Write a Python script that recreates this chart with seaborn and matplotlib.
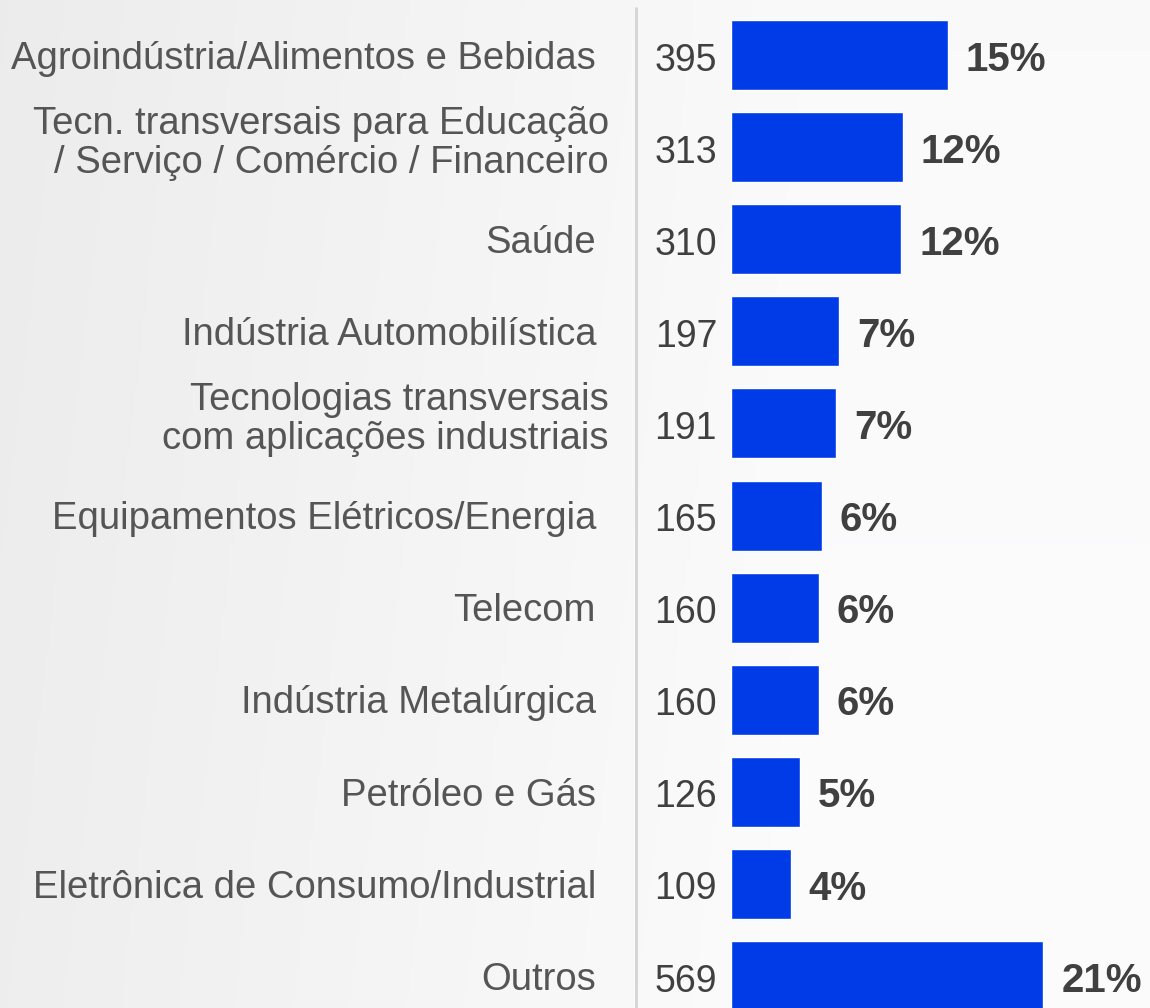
import matplotlib
matplotlib.use('Agg')
import matplotlib.pyplot as plt
from matplotlib.lines import Line2D
import seaborn as sns
import numpy as np
import pandas as pd

categories = [
    'Agroindústria/Alimentos e Bebidas',
    'Tecn. transversais para Educação\n/ Serviço / Comércio / Financeiro',
    'Saúde',
    'Indústria Automobilística',
    'Tecnologias transversais\ncom aplicações industriais',
    'Equipamentos Elétricos/Energia',
    'Telecom',
    'Indústria Metalúrgica',
    'Petróleo e Gás',
    'Eletrônica de Consumo/Industrial',
    'Outros',
]
counts = [395, 313, 310, 197, 191, 165, 160, 160, 126, 109, 569]
pct_labels = ['15%', '12%', '12%', '7%', '7%', '6%', '6%', '6%', '5%', '4%', '21%']

df = pd.DataFrame({'categoria': categories, 'n': counts})

sns.set_theme(style='white')
plt.rcParams['font.family'] = ['Liberation Sans', 'DejaVu Sans']

fig = plt.figure(figsize=(11.5, 10.08), dpi=100)

# --- background gradient ---
bg = fig.add_axes([0, 0, 1, 1], zorder=-10)
gx = np.linspace(0, 1, 300)
gy = np.linspace(0, 1, 200)
X, Y = np.meshgrid(gx, gy)
shade = 0.925 + 0.055 * np.clip(X / 0.7, 0, 1) + 0.008 * Y
bg.imshow(np.dstack([shade, shade, shade * 1.004]).clip(0, 1), aspect='auto', extent=[0, 1, 0, 1])
bg.axis('off')

# --- bars ---
ax = fig.add_axes([731 / 1150, 0, 417 / 1150, 1])
sns.barplot(data=df, x='n', y='categoria', orient='h', color='#003BE8',
            width=0.76, saturation=1, ax=ax)
ax.set_xlim(0, 760)
ax.set_ylim(10.347, -0.597)
ax.patch.set_alpha(0)
for s in ax.spines.values():
    s.set_visible(False)
ax.set_xticks([])
ax.set_yticks([])
ax.set_xlabel('')
ax.set_ylabel('')

px = 760 / 417  # data units per pixel
for i, (cat, n, p) in enumerate(zip(categories, counts, pct_labels)):
    ax.text(-14 * px, i + 0.06, str(n), ha='right', va='center', fontsize=27,
            color='#404040', clip_on=False)
    ax.text(n + 18 * px, i + 0.05, p, ha='left', va='center', fontsize=29,
            fontweight='bold', color='#404040', clip_on=False)
    two_lines = '\n' in cat
    x_right = 609 if two_lines else 596
    dy = -0.04 if two_lines else 0.04
    ax.text(-(731 - x_right) * px, i + dy, cat, ha='right', va='center', fontsize=27.5,
            color='#555555', linespacing=1.1, clip_on=False)

# separator line
fig.add_artist(Line2D([636 / 1150, 636 / 1150], [0, 1 - 8 / 1008],
                      color='#d4d4d4', linewidth=2))

fig.savefig('out.png', dpi=100)
